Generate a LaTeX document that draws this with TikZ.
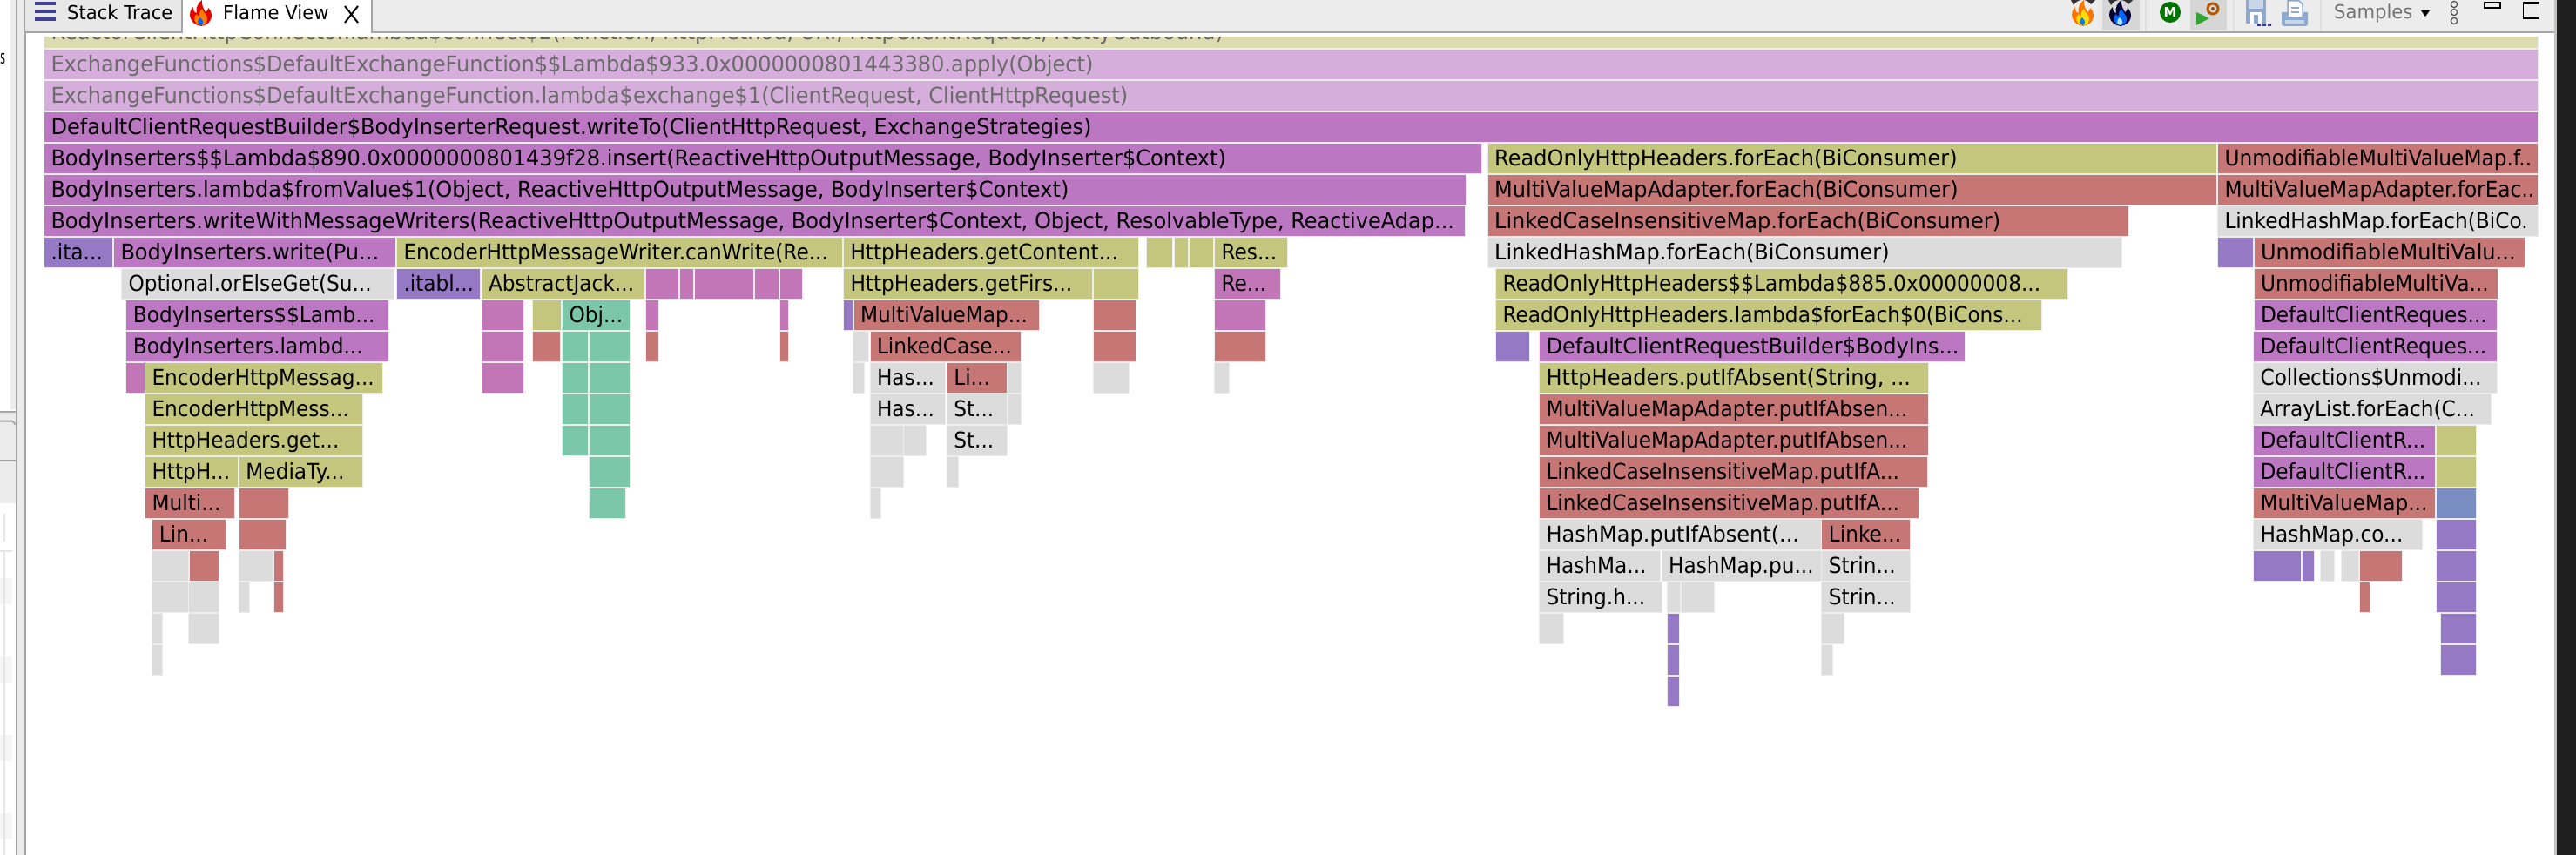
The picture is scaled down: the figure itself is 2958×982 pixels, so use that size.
\documentclass[tikz,border=0pt]{standalone}
\usepackage{fontspec}
\setmainfont{DejaVu Sans}
\newfontfamily\barfont{DejaVu Sans}[FakeStretch=0.93]
\newfontfamily\barwide{DejaVu Sans}[FakeStretch=0.962]
\newfontfamily\uifont{DejaVu Sans}[FakeStretch=0.96]
\definecolor{cpale}{HTML}{DDDCB0}
\definecolor{clil}{HTML}{D6AEDB}
\definecolor{cpur}{HTML}{BB77C1}
\definecolor{cpink}{HTML}{C276B8}
\definecolor{coli}{HTML}{C4C67E}
\definecolor{cred}{HTML}{C67674}
\definecolor{cgrn}{HTML}{7CC6A9}
\definecolor{cgry}{HTML}{DCDCDC}
\definecolor{cvio}{HTML}{9579C4}
\definecolor{cblu}{HTML}{7A8EC4}
\definecolor{chdr}{HTML}{ECECEC}
\definecolor{cline}{HTML}{A6A6A6}
\definecolor{cband}{HTML}{1E1E1E}
\definecolor{cicon}{HTML}{8FA8CE}
\definecolor{ciconl}{HTML}{C9D6EA}
\tikzset{
  fbar/.style={draw=black!7, line width=1pt, anchor=north west, inner sep=0pt, outer sep=0pt, minimum height=35pt},
  uitext/.style={inner sep=0pt, anchor=base west, font=\fontsize{22}{22}\uifont},
  sep/.style={draw=black!12, line width=1.5pt}
}
\newcommand{\fbfont}{\barfont}
\newcommand{\fb}[6]{%
  \pgfmathsetlengthmacro{\fbw}{#3-#2+1}%
  \pgfmathsetmacro{\fby}{21+36*#4-0.5}%
  \pgfmathsetmacro{\fbx}{#2-0.5}%
  \node[fbar, fill=#5, minimum width=\fbw] (#1) at (\fbx,\fby)
    {\makebox[\fbw][l]{\hspace{8pt}\rule[-9pt]{0pt}{34pt}\fontsize{25}{25}\fbfont #6}};%
}
\newcommand{\fbl}[6]{{\let\fbfont\barwide\fb{#1}{#2}{#3}{#4}{#5}{#6}}}
\newcommand{\flameicon}[5]{% x, y(bottom), outer, mid, inner
  \begin{scope}[shift={(#1,#2)}]
    \fill[#3] (0,0) .. controls (-14,-2) and (-16,-16) .. (-9,-22) .. controls (-9,-16) and (-7,-15) .. (-5,-15) .. controls (-7,-21) and (-3,-27) .. (1,-30) .. controls (0,-24) and (3,-20) .. (5,-16) .. controls (7,-17) and (8,-19) .. (8,-21) .. controls (15,-15) and (13,-2) .. (0,0) -- cycle;
    \fill[#4] (0,-1) .. controls (-9,-2) and (-10,-11) .. (-5,-14) .. controls (-4,-11) and (-3,-11) .. (-2,-12) .. controls (-3,-16) and (0,-19) .. (1,-20) .. controls (2,-15) and (8,-13) .. (7,-7) .. controls (6,-3) and (4,-1) .. (0,-1) -- cycle;
    \fill[#5] (0,-1) .. controls (-5,-2) and (-5,-7) .. (-1,-10) .. controls (0,-7) and (5,-6) .. (0,-1) -- cycle;
  \end{scope}
}
\begin{document}
\begin{tikzpicture}[x=1pt,y=-1pt]
\useasboundingbox (0,0) rectangle (2958,982);
\fill[white] (0,0) rectangle (2958,982);

% row 0 (passes under the header)
\fbl{r0a}{51}{2914}{0}{cpale}{\textcolor{black!60}{ReactorClientHttpConnector.lambda\$connect\$2(Function, HttpMethod, URI, HttpClientRequest, NettyOutbound)}}

% header and left rail
\fill[white] (30,38) rectangle (2933,42);
\fill[chdr] (29,0) rectangle (2933,37);
\draw[cline,line width=2.5pt] (29,37) -- (2933,37);
\fill[white] (0,0) rectangle (12,470);
\fill[chdr] (12,0) rectangle (18,470);
\fill[chdr] (20,0) rectangle (28,982);
\draw[cline,line width=2pt] (19,0) -- (19,982);
\draw[cline,line width=2pt] (29,0) -- (29,982);
\fill[chdr] (0,473) rectangle (18,578);
\draw[cline,line width=2pt] (0,472.5) -- (19,472.5);
\draw[cline,line width=2pt] (0,483.5) -- (14,483.5) -- (18.5,488);
\draw[cline,line width=2pt] (0,528.5) -- (18,528.5);
\fill[white] (0,578) rectangle (14,982);
\foreach \sy in {664,754,844,934} \fill[black!4] (0,\sy) rectangle (14,\sy+30);
\draw[black!10,line width=1.5pt] (0,633) -- (14,633);
\draw[black!10,line width=1.5pt] (5,633) -- (5,982);
\draw[black!10,line width=2pt] (5,590) -- (5,622);
\node[inner sep=0pt,anchor=base west,font=\fontsize{22}{22}\selectfont,xscale=0.5,transform shape] (leftS) at (0.3,74) {s};

% tabs
\fill[black!9] (29,0) rectangle (208,36);
\draw[cline,line width=1.5pt] (209,0) -- (209,36);
\fill[white] (210,0) rectangle (426,38.5);
\draw[cline,line width=1.5pt] (427,0) -- (427,36);
\fill[blue!45!black!75!white] (40,2) rectangle (64,6);
\fill[blue!45!black!75!white] (40,11) rectangle (64,15);
\fill[blue!45!black!75!white] (40,20) rectangle (64,24);
\node[uitext] (tabA) at (77,23) {Stack Trace};
\flameicon{231}{30}{red!90!black}{orange}{blue!60!cyan}
\node[uitext] (tabB) at (256,23) {Flame View};
\draw[line width=2pt] (396,7) -- (411,26) (411,7) -- (396,26);

% toolbar
\flameicon{2392}{30}{orange!90!red}{yellow!80!orange}{blue!50!cyan}
\fill[black!80] (2381,6) .. controls (2386,-2) and (2396,-2) .. (2401,5) -- (2406,0) -- (2378,0) -- cycle;
\fill[black!16] (2414,0) rectangle (2457,35);
\flameicon{2435}{30}{black!80!blue}{blue!60!cyan}{cyan!30}
\fill[black!80] (2424,6) .. controls (2429,-2) and (2439,-2) .. (2444,5) -- (2449,0) -- (2421,0) -- cycle;
\draw[sep] (2464,0) -- (2464,36);
\fill[green!45!black] (2492,14) circle (12);
\node[inner sep=0pt,text=white,font=\bfseries\fontsize{15}{15}\selectfont] (btnM) at (2492,14) {M};
\fill[black!16] (2515,0) rectangle (2557,35);
\fill[green!55!black!80] (2522,14) -- (2537,21) -- (2522,29) -- cycle;
\draw[orange!70!black,line width=3pt] (2541,10) circle (6);
\fill[orange!60!black] (2541,10) circle (2);
\draw[sep] (2565,0) -- (2565,36);
% save icon
\fill[cicon] (2579,-1) rectangle (2602,27);
\fill[ciconl] (2582,0) rectangle (2599,10);
\fill[white] (2584,14) rectangle (2597,27);
\fill[cicon] (2588,17) rectangle (2593,27);
\fill[blue!60!black!80] (2592,27.5) rectangle (2596,30) (2598,27.5) rectangle (2602,30) (2604,27.5) rectangle (2608,30);
% print icon
\fill[cicon] (2620,14) -- (2650,14) -- (2650,27) .. controls (2650,29) and (2649,30) .. (2647,30) -- (2623,30) .. controls (2621,30) and (2620,29) .. (2620,27) -- cycle;
\fill[white,draw=cicon,line width=1.5pt] (2627,1) -- (2640,1) -- (2644,5) -- (2644,20) -- (2627,20) -- cycle;
\draw[cicon,line width=1.5pt] (2631,9) -- (2640,9) (2631,14) -- (2640,14);
\fill[ciconl] (2624,23) rectangle (2646,27);
\draw[sep] (2665,0) -- (2665,36);
\node[uitext,text=black!55] (samp) at (2680,22) {Samples};
\fill (2780,12) -- (2790,12) -- (2785,19) -- cycle;
\draw[black!70,line width=1.2pt] (2818,5) circle (3.6) (2818,14) circle (3.6) (2818,24) circle (3.6);
\draw[line width=1.5pt] (2853,3) rectangle (2871,9);
\draw[line width=1.5pt] (2897.5,3) rectangle (2915.5,21);
\draw[line width=2.5pt] (2897.5,4) -- (2915.5,4);

% right edge
\fill[cline!70] (2933,0) rectangle (2936,982);
\fill[cband] (2936,0) rectangle (2958,982);

% rows 1-3
\newcommand{\gt}[1]{\textcolor{black!58}{#1}}
\fbl{r1a}{51}{2914}{1}{clil}{\gt{ExchangeFunctions\$DefaultExchangeFunction\$\$Lambda\$933.0x0000000801443380.apply(Object)}}
\fbl{r2a}{51}{2914}{2}{clil}{\gt{ExchangeFunctions\$DefaultExchangeFunction.lambda\$exchange\$1(ClientRequest, ClientHttpRequest)}}
\fbl{r3a}{51}{2914}{3}{cpur}{DefaultClientRequestBuilder\$BodyInserterRequest.writeTo(ClientHttpRequest, ExchangeStrategies)}
% row 4
\fbl{r4a}{51}{1700.5}{4}{cpur}{BodyInserters\$\$Lambda\$890.0x0000000801439f28.insert(ReactiveHttpOutputMessage, BodyInserter\$Context)}
\fbl{r4b}{1708.6}{2545}{4}{coli}{ReadOnlyHttpHeaders.forEach(BiConsumer)}
\fb{r4c}{2547}{2914}{4}{cred}{UnmodifiableMultiValueMap.f..}
% row 5
\fbl{r5a}{51}{1683}{5}{cpur}{BodyInserters.lambda\$fromValue\$1(Object, ReactiveHttpOutputMessage, BodyInserter\$Context)}
\fbl{r5b}{1708.6}{2545}{5}{cred}{MultiValueMapAdapter.forEach(BiConsumer)}
\fb{r5c}{2547}{2914}{5}{cred}{MultiValueMapAdapter.forEac..}
% row 6
\fbl{r6a}{51}{1681.6}{6}{cpur}{BodyInserters.writeWithMessageWriters(ReactiveHttpOutputMessage, BodyInserter\$Context, Object, ResolvableType, ReactiveAdap...}
\fbl{r6b}{1708.6}{2444}{6}{cred}{LinkedCaseInsensitiveMap.forEach(BiConsumer)}
\fb{r6c}{2547}{2914}{6}{cgry}{LinkedHashMap.forEach(BiCo.}
% row 7
\fb{r7a}{51}{129}{7}{cvio}{.ita...}
\fbl{r7b}{131}{453.5}{7}{cpur}{BodyInserters.write(Pu...}
\fb{r7c}{456}{967}{7}{coli}{EncoderHttpMessageWriter.canWrite(Re...}
\fb{r7d}{969}{1307}{7}{coli}{HttpHeaders.getContent...}
\fb{r7e}{1317}{1346}{7}{coli}{}
\fb{r7f}{1349}{1364}{7}{coli}{}
\fb{r7g}{1366}{1393}{7}{coli}{}
\fb{r7h}{1395}{1478}{7}{coli}{Res...}
\fbl{r7i}{1708.6}{2436}{7}{cgry}{LinkedHashMap.forEach(BiConsumer)}
\fb{r7j}{2547}{2586.5}{7}{cvio}{}
\fbl{r7k}{2588.5}{2899}{7}{cred}{UnmodifiableMultiValu...}
% row 8
\fb{r8a}{140}{452}{8}{cgry}{Optional.orElseGet(Su...}
\fb{r8b}{456}{551}{8}{cvio}{.itabl...}
\fb{r8c}{553.5}{740}{8}{coli}{AbstractJack...}
\fb{r8d}{742}{779}{8}{cpink}{}
\fb{r8e}{781}{796}{8}{cpink}{}
\fb{r8f}{798}{865}{8}{cpink}{}
\fb{r8g}{867}{893.5}{8}{cpink}{}
\fb{r8h}{895.5}{921}{8}{cpink}{}
\fb{r8i}{969}{1253.6}{8}{coli}{HttpHeaders.getFirs...}
\fb{r8j}{1255.6}{1307}{8}{coli}{}
\fb{r8k}{1395}{1470}{8}{cpink}{Re...}
\fb{r8l}{1718}{2374}{8}{coli}{ReadOnlyHttpHeaders\$\$Lambda\$885.0x00000008...}
\fb{r8m}{2588.5}{2868}{8}{cred}{UnmodifiableMultiVa...}
% row 9
\fb{r9a}{145.4}{446}{9}{cpur}{BodyInserters\$\$Lamb...}
\fb{r9b}{553.5}{601.4}{9}{cpink}{}
\fb{r9c}{612}{644}{9}{coli}{}
\fb{r9d}{646}{722.6}{9}{cgrn}{Obj...}
\fb{r9e}{741.7}{755.7}{9}{cpink}{}
\fb{r9f}{895.5}{905}{9}{cpink}{}
\fb{r9g}{969}{978.6}{9}{cvio}{}
\fb{r9h}{980.6}{1193}{9}{cred}{MultiValueMap...}
\fb{r9i}{1255.6}{1303.6}{9}{cred}{}
\fb{r9j}{1395}{1452.5}{9}{cpink}{}
\fb{r9k}{1718}{2344}{9}{coli}{ReadOnlyHttpHeaders.lambda\$forEach\$0(BiCons...}
\fb{r9l}{2588.5}{2866.5}{9}{cpur}{DefaultClientReques...}
% row 10
\fb{r10a}{145.4}{446}{10}{cpur}{BodyInserters.lambd...}
\fb{r10b}{553.5}{601.4}{10}{cpink}{}
\fb{r10c}{612}{643}{10}{cred}{}
\fb{r10d}{646}{675}{10}{cgrn}{}
\fb{r10e}{676.7}{722.6}{10}{cgrn}{}
\fb{r10f}{741.7}{756.4}{10}{cred}{}
\fb{r10g}{895.5}{905}{10}{cred}{}
\fb{r10h}{980}{997.4}{10}{cgry}{}
\fb{r10i}{999.5}{1172}{10}{cred}{LinkedCase...}
\fb{r10j}{1255.6}{1303.6}{10}{cred}{}
\fb{r10k}{1395}{1452.5}{10}{cred}{}
\fb{r10l}{1718}{1756}{10}{cvio}{}
\fbl{r10m}{1768}{2255.5}{10}{cpur}{DefaultClientRequestBuilder\$BodyIns...}
\fb{r10n}{2588}{2866.7}{10}{cpur}{DefaultClientReques...}
% row 11
\fb{r11a}{145.4}{165.8}{11}{cpink}{}
\fb{r11b}{167}{439.4}{11}{coli}{EncoderHttpMessag...}
\fb{r11c}{553.5}{601.4}{11}{cpink}{}
\fb{r11d}{646}{675}{11}{cgrn}{}
\fb{r11e}{676.7}{722.6}{11}{cgrn}{}
\fb{r11f}{980}{991.7}{11}{cgry}{}
\fb{r11g}{999.5}{1085}{11}{cgry}{Has...}
\fb{r11h}{1087.8}{1156}{11}{cred}{Li...}
\fb{r11i}{1158}{1172}{11}{cgry}{}
\fb{r11j}{1255.6}{1296}{11}{cgry}{}
\fb{r11k}{1395}{1411}{11}{cgry}{}
\fbl{r11l}{1768}{2214}{11}{coli}{HttpHeaders.putIfAbsent(String, ...}
\fb{r11m}{2588}{2867}{11}{cgry}{Collections\$Unmodi...}
% row 12
\fb{r12a}{167}{415.8}{12}{coli}{EncoderHttpMess...}
\fb{r12b}{646}{675}{12}{cgrn}{}
\fb{r12c}{676.7}{722.6}{12}{cgrn}{}
\fb{r12d}{999.5}{1085}{12}{cgry}{Has...}
\fb{r12e}{1087.8}{1156}{12}{cgry}{St...}
\fb{r12f}{1158}{1172}{12}{cgry}{}
\fb{r12g}{1768}{2214}{12}{cred}{MultiValueMapAdapter.putIfAbsen...}
\fb{r12h}{2588}{2860}{12}{cgry}{ArrayList.forEach(C...}
% row 13
\fb{r13a}{167}{415.8}{13}{coli}{HttpHeaders.get...}
\fb{r13b}{646}{675}{13}{cgrn}{}
\fb{r13c}{676.7}{722.6}{13}{cgrn}{}
\fb{r13d}{999.5}{1036.7}{13}{cgry}{}
\fb{r13e}{1037.8}{1062.8}{13}{cgry}{}
\fb{r13f}{1087.8}{1156}{13}{cgry}{St...}
\fb{r13g}{1768}{2214}{13}{cred}{MultiValueMapAdapter.putIfAbsen...}
\fb{r13h}{2588}{2796}{13}{cpur}{DefaultClientR...}
\fb{r13i}{2798}{2842.7}{13}{coli}{}
% row 14
\fb{r14a}{167}{273}{14}{coli}{HttpH...}
\fb{r14b}{274.9}{415.8}{14}{coli}{MediaTy...}
\fb{r14c}{676.7}{722.6}{14}{cgrn}{}
\fb{r14d}{999.5}{1036.7}{14}{cgry}{}
\fb{r14e}{1087.8}{1099.5}{14}{cgry}{}
\fb{r14f}{1768}{2212.6}{14}{cred}{LinkedCaseInsensitiveMap.putIfA...}
\fb{r14g}{2588}{2796}{14}{cpur}{DefaultClientR...}
\fb{r14h}{2798}{2842.7}{14}{coli}{}
% row 15
\fb{r15a}{167}{268.5}{15}{cred}{Multi...}
\fb{r15b}{274.9}{331}{15}{cred}{}
\fb{r15c}{676.7}{718}{15}{cgrn}{}
\fb{r15d}{999.5}{1011}{15}{cgry}{}
\fb{r15e}{1768}{2202.7}{15}{cred}{LinkedCaseInsensitiveMap.putIfA...}
\fb{r15f}{2588}{2796}{15}{cred}{MultiValueMap...}
\fb{r15g}{2798}{2842.7}{15}{cblu}{}
% row 16
\fb{r16a}{175.4}{259}{16}{cred}{Lin...}
\fb{r16b}{274.9}{327.8}{16}{cred}{}
\fbl{r16c}{1768}{2090.6}{16}{cgry}{HashMap.putIfAbsent(...}
\fb{r16d}{2092.4}{2193}{16}{cred}{Linke...}
\fb{r16e}{2588}{2781}{16}{cgry}{HashMap.co...}
\fb{r16f}{2798}{2842.7}{16}{cvio}{}
% row 17
\fb{r17a}{175.4}{215.6}{17}{cgry}{}
\fb{r17b}{217.5}{250.6}{17}{cred}{}
\fb{r17c}{274.9}{313}{17}{cgry}{}
\fb{r17d}{315}{324.6}{17}{cred}{}
\fb{r17e}{1768}{1906}{17}{cgry}{HashMa...}
\fb{r17f}{1908.5}{2090.6}{17}{cgry}{HashMap.pu...}
\fb{r17g}{2092.4}{2193}{17}{cgry}{Strin...}
\fb{r17h}{2588}{2642.3}{17}{cvio}{}
\fb{r17i}{2644.3}{2657}{17}{cvio}{}
\fb{r17j}{2665.3}{2680}{17}{cgry}{}
\fb{r17k}{2689}{2708}{17}{cgry}{}
\fb{r17l}{2710}{2758}{17}{cred}{}
\fb{r17m}{2798}{2842.7}{17}{cvio}{}
% row 18
\fb{r18a}{175.4}{215.6}{18}{cgry}{}
\fb{r18b}{216.8}{250.6}{18}{cgry}{}
\fb{r18c}{274.9}{286.4}{18}{cgry}{}
\fb{r18d}{315}{324.6}{18}{cred}{}
\fb{r18e}{1768}{1907.6}{18}{cgry}{String.h...}
\fb{r18f}{1915}{1929}{18}{cgry}{}
\fb{r18g}{1930.8}{1967.9}{18}{cgry}{}
\fb{r18h}{2092.4}{2193}{18}{cgry}{Strin...}
\fb{r18i}{2710}{2721}{18}{cred}{}
\fb{r18j}{2798}{2842.7}{18}{cvio}{}
% row 19
\fb{r19a}{175.4}{185.6}{19}{cgry}{}
\fb{r19b}{216.8}{250.6}{19}{cgry}{}
\fb{r19c}{1768}{1795}{19}{cgry}{}
\fb{r19d}{1915}{1927.7}{19}{cvio}{}
\fb{r19e}{2092.4}{2116.5}{19}{cgry}{}
\fb{r19f}{2803.3}{2842.7}{19}{cvio}{}
% row 20
\fb{r20a}{175.4}{185.6}{20}{cgry}{}
\fb{r20b}{1915}{1927.7}{20}{cvio}{}
\fb{r20c}{2092.4}{2104}{20}{cgry}{}
\fb{r20d}{2803.3}{2842.7}{20}{cvio}{}
% row 21
\fb{r21a}{1915}{1927.7}{21}{cvio}{}
\end{tikzpicture}
\end{document}
